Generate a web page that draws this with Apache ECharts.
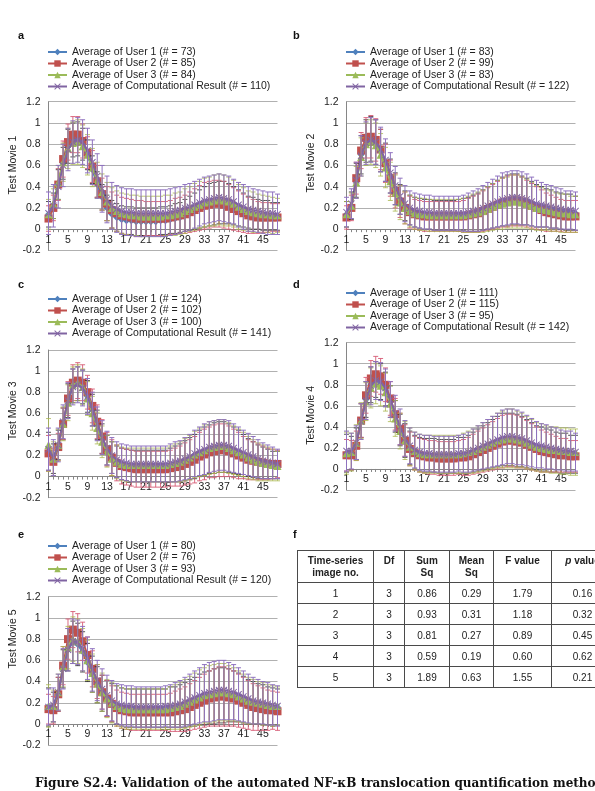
<!DOCTYPE html>
<html>
<head>
<meta charset="utf-8">
<script src="https://cdn.jsdelivr.net/npm/echarts@6/dist/echarts.min.js"></script>
<style>
html, body { margin: 0; padding: 0; background: #fff; overflow: hidden; width: 595px; height: 791px; }
#chart { position: absolute; left: 0; top: 0; width: 595px; height: 791px; }
#anova { position: absolute; left: 297px; top: 550px; width: 316px; border-collapse: collapse; table-layout: fixed;
  font-family: "Liberation Sans", Arial, sans-serif; font-size: 10px; color: #222; }
#anova th, #anova td { border: 1px solid #4a4a4a; text-align: center; padding: 0; overflow: hidden; white-space: nowrap; }
#anova th { font-weight: bold; vertical-align: top; padding-top: 4px; height: 27px; line-height: 12px; }
#anova td { height: 20px; }
#caption { position: absolute; left: 35px; top: 776px; white-space: nowrap;
  font-family: "DejaVu Serif", serif; font-weight: bold; font-size: 12px; color: #111; }
</style>
</head>
<body>
<div id="chart"></div>
<table id="anova"></table>
<div id="caption">Figure S2.4: Validation of the automated NF-κB translocation quantification method</div>
<script>
// time points (x axis categories)
const categories = ['1','2','3','4','5','6','7','8','9','10','11','12','13','14','15','16','17','18','19','20','21','22','23','24',
  '25','26','27','28','29','30','31','32','33','34','35','36','37','38','39','40','41','42','43','44','45','46','47','48'];

// --- Test Movie 1 ---
const a_names = ['Average of User 1 (# = 73)', 'Average of User 2 (# = 85)', 'Average of User 3 (# = 84)', 'Average of Computational Result (# = 110)'];
const a_u1 = [0.14,0.22,0.42,0.62,0.78,0.84,0.85,0.80,0.70,0.56,0.42,0.30,0.20,0.14,0.11,0.09,0.08,0.08,0.07,0.07,0.07,0.07,0.07,0.08,0.08,0.09,0.10,0.11,0.13,0.15,0.17,0.19,0.21,0.23,0.24,0.25,0.25,0.24,0.22,0.20,0.18,0.16,0.15,0.14,0.13,0.13,0.12,0.12];
const a_u2 = [0.10,0.20,0.42,0.66,0.82,0.89,0.89,0.83,0.72,0.59,0.45,0.33,0.24,0.18,0.15,0.13,0.12,0.11,0.10,0.10,0.10,0.10,0.10,0.10,0.10,0.11,0.12,0.13,0.14,0.16,0.18,0.20,0.22,0.23,0.24,0.24,0.23,0.21,0.19,0.17,0.15,0.13,0.12,0.11,0.11,0.11,0.11,0.11];
const a_u3 = [0.14,0.24,0.44,0.63,0.76,0.81,0.82,0.78,0.70,0.58,0.46,0.35,0.26,0.20,0.17,0.15,0.14,0.13,0.13,0.12,0.12,0.12,0.12,0.12,0.13,0.13,0.14,0.15,0.17,0.19,0.21,0.23,0.25,0.26,0.27,0.28,0.27,0.26,0.24,0.21,0.19,0.17,0.16,0.15,0.14,0.14,0.13,0.13];
const a_cr = [0.15,0.22,0.40,0.60,0.75,0.82,0.84,0.82,0.74,0.63,0.50,0.38,0.28,0.22,0.19,0.17,0.16,0.16,0.15,0.15,0.15,0.15,0.15,0.15,0.15,0.16,0.17,0.18,0.20,0.21,0.23,0.25,0.27,0.28,0.29,0.30,0.29,0.28,0.26,0.23,0.21,0.19,0.18,0.17,0.16,0.15,0.15,0.14];
const a_u1_err = [0.12,0.12,0.14,0.15,0.16,0.16,0.16,0.15,0.14,0.13,0.12,0.12,0.12,0.13,0.13,0.13,0.13,0.13,0.13,0.13,0.13,0.13,0.13,0.13,0.13,0.13,0.14,0.14,0.15,0.16,0.17,0.18,0.19,0.20,0.20,0.20,0.20,0.19,0.18,0.17,0.16,0.15,0.15,0.14,0.14,0.14,0.13,0.13];
const a_u2_err = [0.12,0.12,0.15,0.17,0.17,0.17,0.17,0.16,0.15,0.15,0.15,0.15,0.16,0.17,0.17,0.17,0.17,0.17,0.17,0.17,0.16,0.16,0.16,0.16,0.16,0.16,0.17,0.17,0.18,0.19,0.20,0.21,0.22,0.22,0.22,0.22,0.22,0.21,0.20,0.19,0.18,0.17,0.16,0.15,0.14,0.14,0.13,0.13];
const a_u3_err = [0.14,0.14,0.16,0.18,0.19,0.20,0.21,0.20,0.19,0.18,0.17,0.17,0.18,0.19,0.19,0.19,0.19,0.19,0.19,0.19,0.19,0.19,0.19,0.19,0.19,0.19,0.20,0.20,0.21,0.21,0.22,0.22,0.23,0.23,0.24,0.24,0.24,0.23,0.22,0.21,0.20,0.19,0.19,0.18,0.18,0.17,0.17,0.16];
const a_cr_err = [0.20,0.20,0.20,0.20,0.20,0.20,0.21,0.21,0.21,0.21,0.21,0.22,0.22,0.22,0.22,0.22,0.22,0.22,0.22,0.22,0.22,0.22,0.22,0.22,0.22,0.22,0.22,0.22,0.22,0.22,0.22,0.22,0.22,0.22,0.22,0.22,0.22,0.22,0.21,0.21,0.21,0.21,0.20,0.20,0.20,0.20,0.20,0.19];

// --- Test Movie 2 ---
const b_names = ['Average of User 1 (# = 83)', 'Average of User 2 (# = 99)', 'Average of User 3 (# = 83)', 'Average of Computational Result (# = 122)'];
const b_u1 = [0.14,0.22,0.46,0.70,0.83,0.85,0.82,0.74,0.63,0.50,0.38,0.28,0.22,0.18,0.16,0.15,0.14,0.14,0.13,0.13,0.13,0.13,0.13,0.13,0.14,0.14,0.15,0.16,0.18,0.20,0.22,0.24,0.26,0.27,0.28,0.28,0.27,0.26,0.24,0.22,0.21,0.20,0.19,0.18,0.17,0.16,0.16,0.15];
const b_u2 = [0.11,0.20,0.48,0.74,0.86,0.87,0.84,0.75,0.62,0.48,0.36,0.26,0.20,0.16,0.14,0.13,0.12,0.12,0.12,0.12,0.12,0.12,0.12,0.12,0.12,0.13,0.14,0.15,0.17,0.19,0.21,0.23,0.25,0.26,0.27,0.27,0.26,0.24,0.22,0.20,0.18,0.16,0.15,0.14,0.13,0.12,0.12,0.12];
const b_u3 = [0.14,0.22,0.44,0.68,0.80,0.82,0.79,0.70,0.58,0.45,0.34,0.25,0.20,0.17,0.15,0.14,0.14,0.13,0.13,0.13,0.13,0.13,0.13,0.13,0.13,0.14,0.15,0.16,0.17,0.19,0.21,0.23,0.24,0.25,0.26,0.26,0.25,0.24,0.22,0.20,0.19,0.18,0.17,0.16,0.15,0.15,0.14,0.14];
const b_cr = [0.16,0.24,0.46,0.69,0.81,0.84,0.82,0.75,0.65,0.53,0.41,0.31,0.24,0.20,0.18,0.17,0.16,0.16,0.15,0.15,0.15,0.15,0.15,0.15,0.15,0.16,0.17,0.18,0.20,0.22,0.24,0.26,0.28,0.29,0.30,0.30,0.29,0.28,0.26,0.24,0.23,0.22,0.21,0.20,0.19,0.18,0.18,0.17];
const b_u1_err = [0.12,0.13,0.16,0.18,0.20,0.21,0.21,0.20,0.18,0.16,0.15,0.14,0.14,0.14,0.14,0.14,0.14,0.14,0.14,0.14,0.14,0.14,0.14,0.15,0.15,0.16,0.17,0.18,0.19,0.20,0.21,0.22,0.23,0.24,0.24,0.24,0.23,0.22,0.21,0.20,0.19,0.18,0.18,0.17,0.17,0.17,0.17,0.16];
const b_u2_err = [0.11,0.12,0.15,0.17,0.19,0.20,0.20,0.19,0.18,0.17,0.16,0.15,0.15,0.15,0.14,0.14,0.14,0.14,0.14,0.14,0.14,0.14,0.14,0.14,0.15,0.16,0.17,0.18,0.19,0.20,0.21,0.22,0.23,0.24,0.24,0.24,0.23,0.22,0.21,0.20,0.19,0.18,0.17,0.16,0.15,0.15,0.15,0.15];
const b_u3_err = [0.12,0.12,0.15,0.18,0.20,0.21,0.21,0.20,0.19,0.18,0.17,0.16,0.15,0.15,0.15,0.15,0.15,0.15,0.15,0.15,0.15,0.15,0.15,0.15,0.16,0.17,0.18,0.19,0.20,0.21,0.22,0.23,0.24,0.24,0.25,0.25,0.24,0.23,0.22,0.21,0.20,0.19,0.19,0.18,0.18,0.18,0.17,0.17];
const b_cr_err = [0.14,0.14,0.17,0.19,0.20,0.21,0.21,0.21,0.20,0.19,0.18,0.17,0.17,0.16,0.16,0.16,0.16,0.16,0.16,0.16,0.16,0.16,0.16,0.16,0.17,0.18,0.19,0.20,0.21,0.22,0.23,0.24,0.25,0.25,0.25,0.25,0.25,0.24,0.23,0.22,0.21,0.20,0.20,0.19,0.19,0.18,0.18,0.18];

// --- Test Movie 3 ---
const c_names = ['Average of User 1 (# = 124)', 'Average of User 2 (# = 102)', 'Average of User 3 (# = 100)', 'Average of Computational Result (# = 141)'];
const c_u1 = [0.24,0.17,0.30,0.50,0.72,0.86,0.88,0.85,0.76,0.63,0.49,0.36,0.25,0.18,0.14,0.12,0.11,0.10,0.10,0.10,0.10,0.10,0.10,0.10,0.10,0.11,0.12,0.13,0.15,0.17,0.19,0.22,0.24,0.26,0.27,0.28,0.28,0.27,0.25,0.23,0.20,0.18,0.16,0.14,0.13,0.12,0.11,0.11];
const c_u2 = [0.22,0.14,0.28,0.50,0.74,0.89,0.91,0.89,0.80,0.67,0.52,0.38,0.26,0.18,0.13,0.10,0.09,0.08,0.07,0.07,0.07,0.07,0.07,0.07,0.07,0.08,0.09,0.10,0.12,0.14,0.16,0.19,0.21,0.23,0.24,0.25,0.25,0.24,0.22,0.20,0.18,0.16,0.15,0.14,0.13,0.12,0.12,0.12];
const c_u3 = [0.30,0.17,0.30,0.50,0.70,0.87,0.89,0.85,0.74,0.60,0.46,0.33,0.24,0.17,0.14,0.12,0.11,0.11,0.11,0.11,0.11,0.11,0.11,0.11,0.11,0.12,0.13,0.14,0.16,0.18,0.21,0.23,0.25,0.27,0.28,0.29,0.29,0.27,0.25,0.23,0.21,0.18,0.16,0.14,0.13,0.12,0.11,0.10];
const c_cr = [0.26,0.18,0.30,0.52,0.72,0.85,0.87,0.84,0.76,0.64,0.50,0.37,0.27,0.20,0.16,0.14,0.13,0.12,0.12,0.12,0.12,0.12,0.12,0.12,0.12,0.13,0.14,0.15,0.17,0.19,0.22,0.24,0.26,0.28,0.29,0.30,0.30,0.29,0.27,0.25,0.23,0.21,0.19,0.17,0.15,0.14,0.13,0.12];
const c_u1_err = [0.18,0.14,0.14,0.15,0.16,0.16,0.16,0.16,0.15,0.15,0.14,0.14,0.14,0.15,0.15,0.15,0.15,0.15,0.15,0.15,0.15,0.15,0.15,0.15,0.15,0.16,0.17,0.18,0.19,0.20,0.21,0.22,0.23,0.23,0.24,0.24,0.24,0.23,0.22,0.21,0.20,0.18,0.17,0.16,0.15,0.14,0.13,0.13];
const c_u2_err = [0.17,0.13,0.13,0.15,0.16,0.17,0.17,0.17,0.16,0.16,0.16,0.16,0.16,0.17,0.17,0.17,0.17,0.17,0.17,0.17,0.17,0.17,0.17,0.17,0.17,0.17,0.18,0.19,0.20,0.21,0.22,0.23,0.24,0.24,0.25,0.25,0.25,0.24,0.23,0.22,0.20,0.19,0.18,0.17,0.16,0.15,0.14,0.13];
const c_u3_err = [0.25,0.16,0.15,0.16,0.17,0.17,0.17,0.17,0.16,0.16,0.15,0.15,0.15,0.16,0.16,0.16,0.16,0.16,0.16,0.16,0.16,0.16,0.16,0.16,0.16,0.17,0.18,0.19,0.20,0.21,0.22,0.23,0.24,0.25,0.25,0.25,0.25,0.24,0.23,0.22,0.21,0.20,0.19,0.18,0.17,0.16,0.15,0.14];
const c_cr_err = [0.20,0.17,0.16,0.16,0.17,0.17,0.17,0.17,0.17,0.16,0.16,0.16,0.16,0.17,0.17,0.17,0.17,0.17,0.17,0.17,0.17,0.17,0.17,0.17,0.17,0.18,0.19,0.19,0.20,0.21,0.22,0.23,0.24,0.24,0.24,0.24,0.24,0.24,0.23,0.22,0.21,0.20,0.19,0.18,0.17,0.16,0.15,0.14];

// --- Test Movie 4 ---
const d_names = ['Average of User 1 (# = 111)', 'Average of User 2 (# = 115)', 'Average of User 3 (# = 95)', 'Average of Computational Result (# = 142)'];
const d_u1 = [0.15,0.15,0.24,0.46,0.66,0.80,0.85,0.83,0.76,0.64,0.50,0.37,0.27,0.20,0.16,0.14,0.13,0.13,0.13,0.12,0.12,0.12,0.12,0.13,0.13,0.14,0.16,0.18,0.20,0.22,0.24,0.26,0.28,0.28,0.28,0.27,0.26,0.24,0.22,0.20,0.19,0.18,0.17,0.16,0.15,0.15,0.14,0.14];
const d_u2 = [0.13,0.13,0.22,0.46,0.70,0.86,0.90,0.88,0.80,0.67,0.52,0.38,0.27,0.19,0.15,0.13,0.12,0.11,0.11,0.10,0.10,0.10,0.10,0.11,0.11,0.12,0.14,0.16,0.18,0.20,0.22,0.24,0.26,0.27,0.27,0.26,0.25,0.23,0.21,0.19,0.17,0.16,0.15,0.14,0.13,0.13,0.12,0.12];
const d_u3 = [0.15,0.16,0.25,0.46,0.64,0.77,0.81,0.79,0.73,0.62,0.48,0.36,0.27,0.21,0.17,0.15,0.14,0.14,0.14,0.14,0.14,0.14,0.14,0.14,0.15,0.16,0.17,0.19,0.21,0.23,0.25,0.27,0.28,0.29,0.29,0.28,0.27,0.25,0.23,0.21,0.20,0.19,0.18,0.18,0.17,0.17,0.16,0.16];
const d_cr = [0.17,0.17,0.25,0.45,0.65,0.79,0.84,0.83,0.77,0.66,0.53,0.40,0.29,0.22,0.18,0.16,0.15,0.15,0.14,0.14,0.14,0.14,0.14,0.15,0.15,0.16,0.18,0.20,0.22,0.24,0.26,0.28,0.30,0.31,0.31,0.30,0.29,0.27,0.25,0.23,0.22,0.21,0.20,0.19,0.18,0.17,0.17,0.16];
const d_u1_err = [0.18,0.16,0.15,0.16,0.17,0.17,0.17,0.17,0.16,0.15,0.15,0.15,0.16,0.16,0.16,0.16,0.16,0.16,0.16,0.16,0.16,0.16,0.16,0.17,0.17,0.18,0.19,0.20,0.21,0.22,0.23,0.24,0.25,0.25,0.25,0.25,0.24,0.23,0.22,0.21,0.21,0.20,0.20,0.19,0.19,0.19,0.18,0.18];
const d_u2_err = [0.15,0.14,0.14,0.16,0.17,0.17,0.17,0.17,0.16,0.16,0.15,0.15,0.15,0.16,0.16,0.16,0.16,0.16,0.16,0.16,0.16,0.16,0.16,0.16,0.17,0.18,0.19,0.20,0.21,0.22,0.23,0.24,0.25,0.25,0.25,0.25,0.24,0.23,0.22,0.21,0.20,0.19,0.18,0.17,0.16,0.16,0.15,0.15];
const d_u3_err = [0.20,0.18,0.17,0.17,0.18,0.19,0.19,0.19,0.18,0.17,0.17,0.17,0.18,0.18,0.18,0.18,0.18,0.18,0.18,0.18,0.18,0.18,0.18,0.18,0.19,0.20,0.21,0.22,0.23,0.24,0.25,0.26,0.27,0.28,0.28,0.27,0.26,0.25,0.24,0.23,0.23,0.22,0.22,0.22,0.22,0.22,0.22,0.22];
const d_cr_err = [0.19,0.17,0.16,0.17,0.18,0.18,0.18,0.18,0.18,0.17,0.17,0.17,0.17,0.17,0.17,0.17,0.17,0.17,0.17,0.17,0.17,0.17,0.17,0.17,0.18,0.19,0.20,0.21,0.22,0.23,0.24,0.25,0.26,0.26,0.26,0.26,0.25,0.24,0.23,0.22,0.21,0.21,0.20,0.20,0.19,0.19,0.19,0.18];

// --- Test Movie 5 ---
const e_names = ['Average of User 1 (# = 80)', 'Average of User 2 (# = 76)', 'Average of User 3 (# = 93)', 'Average of Computational Result (# = 120)'];
const e_u1 = [0.16,0.16,0.28,0.52,0.70,0.77,0.75,0.68,0.58,0.47,0.37,0.29,0.24,0.20,0.18,0.16,0.15,0.15,0.15,0.15,0.15,0.15,0.15,0.15,0.15,0.16,0.16,0.17,0.18,0.20,0.21,0.23,0.24,0.25,0.26,0.27,0.27,0.27,0.26,0.25,0.23,0.21,0.20,0.19,0.18,0.17,0.16,0.16];
const e_u2 = [0.14,0.13,0.28,0.55,0.80,0.89,0.86,0.78,0.65,0.52,0.40,0.30,0.24,0.19,0.15,0.13,0.12,0.11,0.11,0.11,0.11,0.11,0.11,0.11,0.11,0.11,0.12,0.13,0.14,0.16,0.18,0.20,0.22,0.24,0.25,0.26,0.26,0.25,0.24,0.22,0.20,0.18,0.16,0.15,0.14,0.13,0.13,0.12];
const e_u3 = [0.17,0.17,0.30,0.54,0.72,0.80,0.78,0.70,0.60,0.48,0.38,0.30,0.24,0.20,0.17,0.15,0.14,0.14,0.14,0.14,0.14,0.14,0.14,0.14,0.14,0.15,0.16,0.17,0.19,0.21,0.23,0.25,0.27,0.28,0.29,0.30,0.30,0.29,0.28,0.26,0.24,0.22,0.21,0.20,0.19,0.18,0.17,0.17];
const e_cr = [0.16,0.18,0.30,0.52,0.70,0.78,0.77,0.71,0.62,0.51,0.41,0.33,0.27,0.22,0.19,0.18,0.17,0.17,0.16,0.16,0.16,0.16,0.16,0.16,0.17,0.17,0.18,0.19,0.21,0.23,0.25,0.27,0.29,0.30,0.31,0.32,0.32,0.31,0.30,0.28,0.26,0.24,0.22,0.21,0.20,0.19,0.18,0.17];
const e_u1_err = [0.18,0.14,0.16,0.18,0.20,0.20,0.20,0.19,0.18,0.17,0.17,0.17,0.17,0.18,0.18,0.18,0.18,0.18,0.18,0.18,0.18,0.18,0.18,0.18,0.18,0.19,0.19,0.20,0.21,0.22,0.23,0.24,0.25,0.25,0.26,0.26,0.26,0.25,0.24,0.23,0.22,0.21,0.20,0.19,0.19,0.18,0.18,0.17];
const e_u2_err = [0.14,0.13,0.16,0.18,0.19,0.17,0.18,0.18,0.17,0.17,0.16,0.16,0.17,0.17,0.17,0.17,0.17,0.17,0.17,0.17,0.17,0.17,0.17,0.17,0.17,0.18,0.19,0.20,0.21,0.22,0.23,0.24,0.25,0.26,0.27,0.28,0.28,0.27,0.26,0.25,0.24,0.23,0.22,0.21,0.20,0.19,0.18,0.18];
const e_u3_err = [0.20,0.15,0.17,0.19,0.20,0.21,0.21,0.20,0.19,0.18,0.18,0.18,0.18,0.19,0.19,0.19,0.19,0.19,0.19,0.19,0.19,0.19,0.19,0.19,0.19,0.20,0.21,0.22,0.23,0.24,0.25,0.26,0.26,0.27,0.27,0.27,0.27,0.26,0.25,0.24,0.23,0.22,0.21,0.20,0.20,0.19,0.19,0.18];
const e_cr_err = [0.17,0.16,0.17,0.19,0.20,0.21,0.21,0.21,0.20,0.20,0.19,0.19,0.19,0.19,0.19,0.19,0.19,0.19,0.19,0.19,0.19,0.19,0.19,0.19,0.19,0.20,0.21,0.22,0.23,0.24,0.25,0.26,0.27,0.28,0.28,0.28,0.28,0.27,0.26,0.25,0.24,0.23,0.22,0.21,0.20,0.20,0.19,0.19];

// --- ANOVA table (panel f) ---
const tableHeader = ['Time-series<br>image no.', 'Df', 'Sum<br>Sq', 'Mean<br>Sq', 'F value', '<i>p</i> value'];
const imageNo = [1, 2, 3, 4, 5];
const dfValues = [3, 3, 3, 3, 3];
const sumSq = ['0.86', '0.93', '0.81', '0.59', '1.89'];
const meanSq = ['0.29', '0.31', '0.27', '0.19', '0.63'];
const fValues = ['1.79', '1.18', '0.89', '0.60', '1.55'];
const pValues = ['0.16', '0.32', '0.45', '0.62', '0.21'];
const colWidths = [76, 31, 45, 44, 58, 62];

const FONT = '"Liberation Sans", Arial, sans-serif';
const seriesColors = ['#4f81bd', '#c0504d', '#9bbb59', '#8064a2'];
const errColors = ['#2a2a2a', '#d65a74', '#a9b84f', '#8f72bf'];
const errWidths = [0.8, 0.9, 0.8, 1];
const crossPath = 'path://M0,1L1,0L5,4L9,0L10,1L6,5L10,9L9,10L5,6L1,10L0,9L4,5Z';
const symbols = ['diamond', 'rect', 'triangle', crossPath];
const symbolSizes = [7, 8, 8, 7];

// panel layout
const panels = [
  { letter: 'a', title: 'Test Movie 1', names: a_names, means: [a_u1, a_u2, a_u3, a_cr], errs: [a_u1_err, a_u2_err, a_u3_err, a_cr_err],
    grid: { left: 48.5, top: 101.7, width: 229, height: 148.7 }, legend: { left: 47, top: 46.5 }, lt: [18, 30], nameShift: 11 },
  { letter: 'b', title: 'Test Movie 2', names: b_names, means: [b_u1, b_u2, b_u3, b_cr], errs: [b_u1_err, b_u2_err, b_u3_err, b_cr_err],
    grid: { left: 346.5, top: 101.7, width: 229, height: 148.7 }, legend: { left: 345, top: 46.5 }, lt: [293, 30], nameShift: 13 },
  { letter: 'c', title: 'Test Movie 3', names: c_names, means: [c_u1, c_u2, c_u3, c_cr], errs: [c_u1_err, c_u2_err, c_u3_err, c_cr_err],
    grid: { left: 48.5, top: 350, width: 229, height: 147.7 }, legend: { left: 47, top: 293.5 }, lt: [18, 279], nameShift: 13 },
  { letter: 'd', title: 'Test Movie 4', names: d_names, means: [d_u1, d_u2, d_u3, d_cr], errs: [d_u1_err, d_u2_err, d_u3_err, d_cr_err],
    grid: { left: 346.5, top: 342.7, width: 229, height: 147.3 }, legend: { left: 345, top: 287.5 }, lt: [293, 279], nameShift: 1 },
  { letter: 'e', title: 'Test Movie 5', names: e_names, means: [e_u1, e_u2, e_u3, e_cr], errs: [e_u1_err, e_u2_err, e_u3_err, e_cr_err],
    grid: { left: 48.5, top: 596.7, width: 229, height: 148.5 }, legend: { left: 47, top: 540.5 }, lt: [18, 529], nameShift: 32 }
];

function errorBars(color, width){
  return function(params, api){
    let x = api.value(0), m = api.value(1), e = api.value(2);
    let hi = api.coord([x, m + e]);
    let lo = api.coord([x, m - e]);
    let st = { stroke: color, lineWidth: width };
    return {
      type: 'group',
      children: [
        { type: 'line', shape: { x1: hi[0], y1: hi[1], x2: lo[0], y2: lo[1] }, style: st },
        { type: 'line', shape: { x1: hi[0] - 2.5, y1: hi[1], x2: hi[0] + 2.5, y2: hi[1] }, style: st },
        { type: 'line', shape: { x1: lo[0] - 2.5, y1: lo[1], x2: lo[0] + 2.5, y2: lo[1] }, style: st }
      ]
    };
  };
}

let option = {
  animation: false,
  backgroundColor: '#fff',
  title: [{ text: 'f', left: 293, top: 529, padding: 0,
    textStyle: { fontFamily: FONT, fontSize: 11, fontWeight: 'bold', color: '#111' } }],
  grid: [], xAxis: [], yAxis: [], legend: [], series: []
};

panels.forEach(function(p, i){
  option.title.push({ text: p.letter, left: p.lt[0], top: p.lt[1], padding: 0,
    textStyle: { fontFamily: FONT, fontSize: 11, fontWeight: 'bold', color: '#111' } });
  option.grid.push(p.grid);
  // category axis sits on the y = 0 line (one 0.2 step above the bottom)
  option.xAxis.push({
    type: 'category', gridIndex: i, data: categories, boundaryGap: false,
    offset: -p.grid.height / 7,
    axisLine: { onZero: false, lineStyle: { color: '#868686', width: 1 } },
    axisTick: { show: true, interval: 0, length: 3, lineStyle: { color: '#868686' } },
    axisLabel: { interval: 3, margin: 5, fontFamily: FONT, fontSize: 10.5, color: '#222' },
    splitLine: { show: false }
  });
  option.yAxis.push({
    type: 'value', gridIndex: i, min: -0.2, max: 1.2, interval: 0.2,
    name: p.title, nameLocation: 'middle', nameRotate: 90, nameGap: 29,
    nameTextStyle: { fontFamily: FONT, fontSize: 10.5, color: '#222', padding: [0, 0, 0, 2 * p.nameShift] },
    axisLine: { show: true, lineStyle: { color: '#868686' } },
    axisTick: { show: false },
    axisLabel: { margin: 8, fontFamily: FONT, fontSize: 10.5, color: '#222' },
    splitLine: { lineStyle: { color: '#b0b0b0', width: 1 } }
  });
  option.legend.push({
    orient: 'vertical', left: p.legend.left, top: p.legend.top, padding: 0,
    itemWidth: 19, itemHeight: 8, itemGap: 0.5, selectedMode: false,
    data: p.names,
    textStyle: { fontFamily: FONT, fontSize: 10.5, color: '#222' }
  });
  p.means.forEach(function(vals, s){
    option.series.push({
      type: 'line', name: p.names[s], xAxisIndex: i, yAxisIndex: i,
      data: vals, symbol: symbols[s], symbolSize: symbolSizes[s], showAllSymbol: true,
      lineStyle: { color: seriesColors[s], width: 2 },
      itemStyle: { color: seriesColors[s] },
      z: 2 + s
    });
  });
  p.means.forEach(function(vals, s){
    option.series.push({
      type: 'custom', name: p.letter + '-err-' + s, xAxisIndex: i, yAxisIndex: i,
      data: vals.map(function(v, k){ return [k, v, p.errs[s][k]]; }),
      encode: { x: 0, y: 1 },
      renderItem: errorBars(errColors[s], errWidths[s]),
      z: 7
    });
  });
});

let chart = echarts.init(document.getElementById('chart'));
chart.setOption(option);

// table
let html = '<colgroup>' + colWidths.map(function(w){ return '<col style="width:' + w + 'px">'; }).join('') + '</colgroup>';
html += '<tr>' + tableHeader.map(function(h){ return '<th>' + h + '</th>'; }).join('') + '</tr>';
imageNo.forEach(function(n, r){
  html += '<tr><td>' + n + '</td><td>' + dfValues[r] + '</td><td>' + sumSq[r] + '</td><td>' + meanSq[r] +
    '</td><td>' + fValues[r] + '</td><td>' + pValues[r] + '</td></tr>';
});
document.getElementById('anova').innerHTML = html;
</script>
</body>
</html>
